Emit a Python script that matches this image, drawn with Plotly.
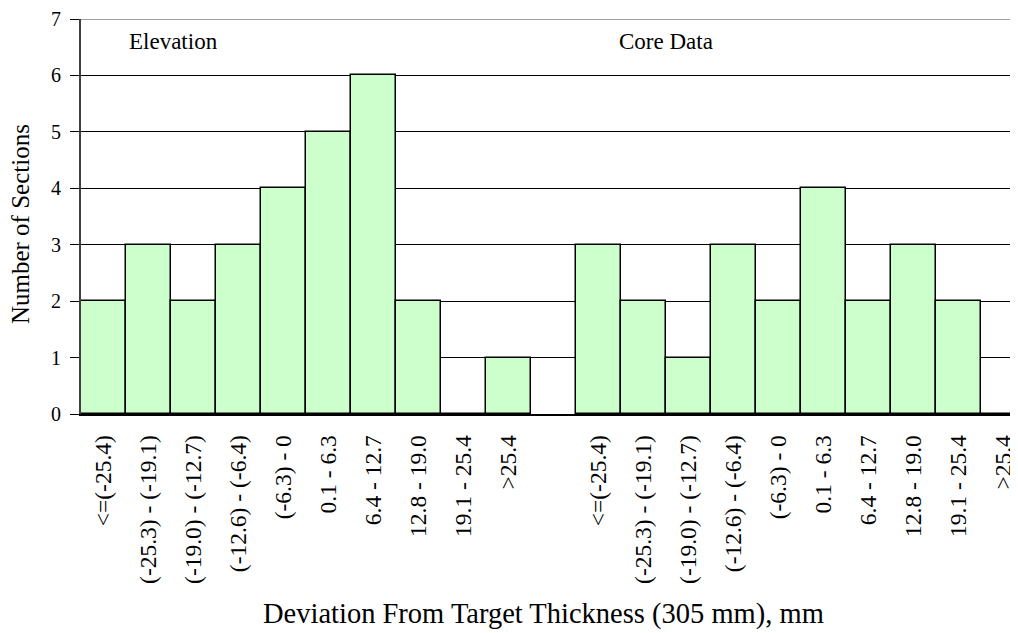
import plotly.graph_objects as go

# bin labels (same bins for both groups)
bins = ["<=(-25.4)", "(-25.3) - (-19.1)", "(-19.0) - (-12.7)", "(-12.6) - (-6.4)",
        "(-6.3) - 0", "0.1 - 6.3", "6.4 - 12.7", "12.8 - 19.0", "19.1 - 25.4", ">25.4"]

# number of sections per bin
elevation_counts = [2, 3, 2, 3, 4, 5, 6, 2, 0, 1]
core_counts = [3, 2, 1, 3, 2, 4, 2, 3, 2, 0]

# elevation bins at 0..9, one empty slot, core bins at 11..20
elev_x = list(range(len(bins)))
core_x = [i + len(bins) + 1 for i in range(len(bins))]

font_family = "Liberation Serif, Times New Roman, serif"
bar_style = dict(color="#CCFFCC", line=dict(color="black", width=1.5))

fig = go.Figure()
fig.add_trace(go.Bar(x=elev_x, y=elevation_counts, marker=bar_style, width=1, showlegend=False))
fig.add_trace(go.Bar(x=core_x, y=core_counts, marker=bar_style, width=1, showlegend=False))

# the page body adds an 8px margin, so the figure is 8px smaller on each axis
fig.update_layout(
    width=1010, height=625,
    margin=dict(l=73, r=0, t=11, b=219),
    paper_bgcolor="white", plot_bgcolor="white",
    bargap=0,
    font=dict(family=font_family, color="black"),
    xaxis=dict(
        range=[-0.5, 20.33],
        tickvals=elev_x + core_x,
        ticktext=bins + bins,
        tickangle=-90,
        tickfont=dict(size=23.5),
        ticks="", ticklabelstandoff=10,
        showgrid=False, zeroline=False,
        showline=True, linecolor="black", linewidth=1.5,
    ),
    yaxis=dict(
        range=[0, 7], dtick=1,
        tickfont=dict(size=20),
        ticks="outside", ticklen=9, tickcolor="black",
        ticklabelstandoff=5,
        showgrid=True, gridcolor="black", gridwidth=1,
        zeroline=False,
        showline=True, linecolor="#404040", linewidth=2,
    ),
    annotations=[
        dict(text="Elevation", x=0.53, y=6.6, xref="x", yref="y", xanchor="left",
             yanchor="middle", showarrow=False, font=dict(size=23)),
        dict(text="Core Data", x=11.42, y=6.6, xref="x", yref="y", xanchor="left",
             yanchor="middle", showarrow=False, font=dict(size=23)),
        dict(text="Deviation From Target Thickness (305 mm), mm", x=0.494, y=-0.506,
             xref="paper", yref="paper", xanchor="center", yanchor="middle",
             showarrow=False, font=dict(size=28.5)),
        dict(text="Number of Sections", x=-0.0646, y=0.482, xref="paper", yref="paper",
             xanchor="center", yanchor="middle",
             textangle=-90, showarrow=False, font=dict(size=25)),
    ],
    shapes=[
        dict(type="line", xref="paper", yref="y", x0=0, x1=1, y0=7, y1=7,
             line=dict(color="#A0A0A0", width=2), layer="above"),
    ],
)

fig.write_html("out.html")
